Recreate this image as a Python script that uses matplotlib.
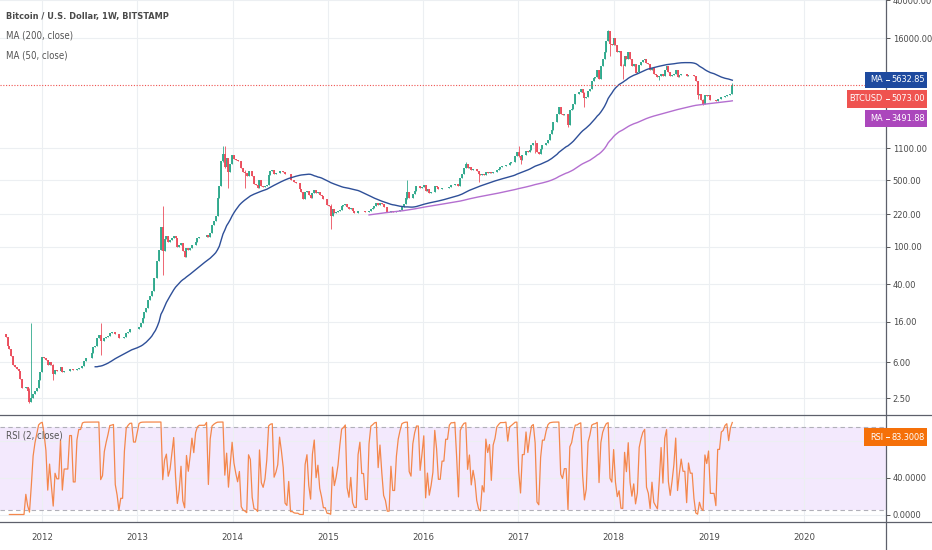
import os
import numpy as np
import pandas as pd
import matplotlib
matplotlib.use("Agg")
import matplotlib.pyplot as plt
import matplotlib.dates as mdates
from matplotlib import font_manager as fm
from matplotlib.lines import Line2D
from matplotlib.patches import Rectangle

# weekly closes, BITSTAMP BTCUSD, weeks starting on monday
start = "2011-08-15"
first_open = 11.8
c2011 = [11.0, 8.9, 8.2, 6.9, 5.6, 5.4, 5.1, 4.9, 4.0, 3.2,
         3.2, 3.3, 3.0, 2.3, 2.5, 2.8, 3.0, 3.2, 3.9, 4.7]
c2012 = [6.8, 6.6, 6.4, 5.6, 6.0, 5.6, 4.5, 5.0, 4.9, 4.9,
         5.3, 4.7, 4.9, 4.9, 4.9, 5.1, 5.1, 5.0, 5.0, 5.1,
         5.2, 5.2, 5.5, 6.2, 6.6, 6.7, 6.7, 7.5, 8.7, 8.9,
         10.9, 11.7, 10.0, 10.1, 10.7, 11.0, 11.3, 12.3, 12.4, 12.5,
         12.0, 11.8, 10.8, 10.9, 10.9, 11.2, 12.1, 12.6, 13.4, 13.5,
         13.4, 13.4, 13.5]
c2013 = [14.2, 15.5, 17.5, 20.5, 22.5, 27.0, 29.9, 34.0, 47.0, 47.0,
         71.0, 93.0, 162, 90, 120, 128, 113, 116, 122, 131,
         122, 100, 103, 108, 90, 77, 97, 91, 96, 105,
         103, 113, 122, 126, 126, 126, 126, 132, 125, 139,
         170, 186, 210, 330, 440, 800, 960, 700, 860, 620,
         740, 920]
c2014 = [850, 820, 800, 810, 680, 620, 600, 560, 635, 630,
         560, 460, 450, 420, 500, 440, 430, 435, 445, 575,
         630, 650, 590, 595, 600, 630, 625, 620, 590, 585,
         590, 500, 500, 480, 475, 475, 410, 380, 320, 375,
         390, 355, 325, 370, 400, 365, 375, 355, 345, 320,
         320, 275]
c2015 = [270, 210, 250, 225, 230, 235, 245, 270, 275, 285,
         260, 250, 255, 235, 225, 225, 235, 240, 235, 235,
         230, 230, 235, 250, 255, 270, 290, 275, 290, 280,
         265, 260, 230, 230, 240, 230, 230, 235, 240, 245,
         265, 285, 325, 375, 330, 325, 360, 390, 440, 440,
         420, 430]
c2016 = [450, 385, 405, 370, 375, 380, 440, 430, 410, 410,
         415, 415, 420, 420, 430, 450, 450, 460, 455, 440,
         525, 580, 680, 740, 670, 700, 650, 665, 655, 625,
         590, 570, 580, 575, 610, 605, 610, 600, 615, 620,
         640, 655, 700, 705, 705, 735, 730, 765, 775, 790,
         900, 995]
c2017 = [905, 820, 920, 920, 1025, 1000, 1050, 1190, 1250, 1230,
         1000, 960, 1080, 1180, 1180, 1230, 1350, 1560, 1720, 2050,
         2050, 2550, 2980, 2500, 2450, 2500, 2500, 1910, 2750, 2870,
         3230, 4060, 4080, 4350, 4620, 4250, 3700, 3770, 4370, 4600,
         5620, 6000, 6150, 7350, 5900, 8050, 9700, 11300, 15000, 19050,
         13900, 13400]
c2018 = [16200, 13600, 11500, 11700, 8200, 8100, 10400, 9600, 11400, 9500,
         8200, 8500, 6800, 7000, 8350, 8900, 9400, 9650, 8700, 8500,
         7350, 7700, 6750, 6450, 6150, 6350, 6750, 6350, 7400, 8200,
         7000, 6300, 6500, 6700, 7300, 6250, 6500, 6700, 6600, 6600,
         6300, 6500, 6450, 6450, 6350, 5600, 4000, 4150, 3550, 3250,
         4000, 3900, 4050]
c2019 = [3550, 3550, 3550, 3420, 3650, 3650, 3800, 3820, 3920, 4010,
         3990, 4110, 5073]

# weeks with long shadows: (low, high)
wicks = {
    "2011-11-14": (2.2, 3.2),
    "2011-11-21": (2.3, 15.6),
    "2012-02-13": (3.9, 5.7),
    "2012-08-13": (7.1, 15.4),
    "2013-04-08": (50, 266),
    "2013-11-25": (780, 1163),
    "2013-12-02": (680, 1150),
    "2013-12-16": (420, 870),
    "2014-02-17": (420, 640),
    "2015-01-12": (152, 285),
    "2015-11-02": (320, 500),
    "2016-06-13": (680, 780),
    "2016-08-01": (480, 625),
    "2017-01-02": (880, 1150),
    "2017-01-09": (750, 910),
    "2017-03-06": (980, 1330),
    "2017-07-10": (1830, 2550),
    "2017-09-11": (2970, 4300),
    "2017-12-11": (15000, 19666),
    "2017-12-18": (10400, 19000),
    "2018-02-05": (5900, 8600),
    "2018-06-25": (5780, 6400),
    "2018-11-19": (3600, 5600),
    "2018-12-10": (3150, 3600),
    "2019-04-01": (4090, 5300),
}

price_ticks = [2.5, 6, 16, 40, 100, 220, 500, 1100, 16000, 40000]
rsi_ticks = [0, 40, 80]
years = [2012, 2013, 2014, 2015, 2016, 2017, 2018, 2019, 2020]
price_tags = [("MA", "5632.85", "#1e4a9f"),
              ("BTCUSD", "5073.00", "#ef5350"),
              ("MA", "3491.88", "#ab47bc")]
rsi_tag = ("RSI", "83.3008", "#f57009")
last_close_value = 5073.0

GREEN = "#2fa98c"
RED = "#eb4d5c"
W, H = 932, 550


def weight_of(f):
    if isinstance(f.weight, int):
        return f.weight
    return fm.weight_dict.get(f.weight, 400)


def pick_font(bold):
    # a narrow sans if there is one, else Liberation Sans
    best = None
    for f in fm.fontManager.ttflist:
        nm = (f.name + " " + os.path.basename(f.fname)).lower()
        if "mono" in nm or "serif" in nm or f.style != "normal":
            continue
        narrow = "narrow" in nm or "condensed" in nm or f.stretch in ("condensed", "semi-condensed")
        if not narrow or "extra" in nm or "ultra" in nm:
            continue
        if (weight_of(f) >= 600) != bold:
            continue
        if best is None or "liberation" in nm:
            best = f
    if best is not None:
        return fm.FontProperties(fname=best.fname), True
    return fm.FontProperties(family="Liberation Sans", weight="bold" if bold else "normal"), False


FP, NARROW = pick_font(False)
FPB, _ = pick_font(True)
K = 1.0 if NARROW else 0.86


def fp(size, bold=False):
    p = (FPB if bold else FP).copy()
    p.set_size(size * K)
    return p


def px(x, y):
    return x / W, 1 - y / H


def rsi(c, n=2):
    d = np.diff(c)
    up = np.where(d > 0, d, 0.0)
    dn = np.where(d < 0, -d, 0.0)
    au = np.full(len(c), np.nan)
    ad = np.full(len(c), np.nan)
    au[n] = up[:n].mean()
    ad[n] = dn[:n].mean()
    for i in range(n + 1, len(c)):
        au[i] = (au[i-1] * (n - 1) + up[i-1]) / n
        ad[i] = (ad[i-1] * (n - 1) + dn[i-1]) / n
    with np.errstate(divide="ignore", invalid="ignore"):
        r = np.where(ad == 0, 100.0, 100 - 100 / (1 + au / ad))
    r[:n] = np.nan
    return r


close = np.array(c2011 + c2012 + c2013 + c2014 + c2015 + c2016 + c2017 + c2018 + c2019, dtype=float)
dates = pd.date_range(start, periods=len(close), freq="W-MON")
x = mdates.date2num(dates)
opens = np.r_[first_open, close[:-1]]
lows = np.minimum(opens, close)
highs = np.maximum(opens, close)
for d, (lo, hi) in wicks.items():
    i = dates.get_loc(pd.Timestamp(d))
    lows[i] = lo
    highs[i] = hi

s = pd.Series(close)
ma50 = s.rolling(50).mean().values
ma200 = s.rolling(200).mean().values
r2 = rsi(close)

fig = plt.figure(figsize=(W / 100, H / 100), dpi=100)
ax = fig.add_axes([0, 1 - 415 / H, 886 / W, 415 / H])
ax2 = fig.add_axes([0, 1 - 522 / H, 886 / W, 107 / H])

x0 = mdates.date2num(pd.Timestamp("2012-01-01"))
xl = (x0 - 161.05, x0 + 3236.4)
year_x = [mdates.date2num(pd.Timestamp(f"{y}-01-01")) for y in years]

for a in (ax, ax2):
    a.set_xlim(*xl)
    for sp in a.spines.values():
        sp.set_visible(False)
    a.set_axisbelow(True)
    a.set_xticks(year_x)
    a.grid(True, color="#eceff2", lw=0.8)
    a.yaxis.tick_right()
    a.tick_params(axis="y", length=3, width=0.7, color="#555555", pad=1.8, labelcolor="#4a4a4a")

# price pane
ax.set_yscale("log")
ax.set_ylim(1.66, 40400)
ax.yaxis.set_minor_locator(matplotlib.ticker.NullLocator())
ax.set_yticks(price_ticks)
ax.set_yticklabels([f"{v:.2f}" for v in price_ticks], fontproperties=fp(6.7))
ax.tick_params(axis="x", length=0, labelbottom=False)

up = close >= opens
for m, col in ((up, GREEN), (~up, RED)):
    ax.vlines(x[m], lows[m], highs[m], color=col, lw=0.6, zorder=2)
    ax.vlines(x[m], opens[m], close[m], color=col, lw=1.35, zorder=2)
ax.plot(x, ma200, color="#b46fd0", lw=1.0, zorder=3)
ax.plot(x, ma50, color="#2e4f98", lw=1.0, zorder=3)
ax.axhline(last_close_value, color="#ef5350", lw=0.8, ls=(0, (1, 1.5)), zorder=4)

# rsi pane, the 80 label sits under the RSI tag
ax2.set_ylim(-8.1, 107.6)
ax2.set_yticks(rsi_ticks)
ax2.set_yticklabels([f"{v:.4f}" if v < 80 else "" for v in rsi_ticks], fontproperties=fp(6.7))
ax2.axhspan(5, 95, color="#f3e9fd", lw=0, zorder=0)
for lv in (5, 95):
    ax2.axhline(lv, color="#b0b0b8", lw=0.8, ls=(0, (4, 3)), zorder=1)
ax2.plot(x, r2, color="#f4874c", lw=0.9, zorder=3)
ax2.set_xticklabels([str(y) for y in years], fontproperties=fp(6.8))
ax2.tick_params(axis="x", length=0, pad=8, labelcolor="#4a4a4a")

# pane borders
for xs, ys in (((0, W), (415, 415)), ((0, W), (522, 522)), ((886, 886), (0, H))):
    p0 = px(xs[0], ys[0])
    p1 = px(xs[1], ys[1])
    fig.add_artist(Line2D([p0[0], p1[0]], [p0[1], p1[1]], transform=fig.transFigure,
                          color="#5d606b", lw=0.9))

# legend texts
fig.text(*px(6, 17), "Bitcoin / U.S. Dollar, 1W, BITSTAMP", fontproperties=fp(6.6, True),
         color="#4a4a4a", va="center")
fig.text(*px(6, 36), "MA (200, close)", fontproperties=fp(6.9), color="#555555", va="center")
fig.text(*px(6, 55), "MA (50, close)", fontproperties=fp(6.9), color="#555555", va="center")
fig.text(*px(6, 435), "RSI (2, close)", fontproperties=fp(6.9), color="#555555", va="center")


def tag(y0, y1, xleft, name, value, col):
    bx, by = px(xleft, y1)
    fig.add_artist(Rectangle((bx, by), (927 - xleft) / W, (y1 - y0) / H,
                             transform=fig.transFigure, color=col, lw=0, zorder=5))
    yc = (y0 + y1) / 2
    fig.text(*px(883, yc), name, fontproperties=fp(6.6), color="white", ha="right", va="center", zorder=6)
    fig.text(*px(891, yc), value, fontproperties=fp(6.6), color="white", ha="left", va="center", zorder=6)
    a0 = px(886, yc)
    a1 = px(889, yc)
    fig.add_artist(Line2D([a0[0], a1[0]], [a0[1], a1[1]], transform=fig.transFigure,
                          color="white", lw=0.7, zorder=6))


tag(72, 88, 865, *price_tags[0])
tag(90, 108, 847, *price_tags[1])
tag(110, 127, 865, *price_tags[2])
tag(428, 446, 864, *rsi_tag)

fig.savefig("out.png", dpi=100, facecolor="white")
